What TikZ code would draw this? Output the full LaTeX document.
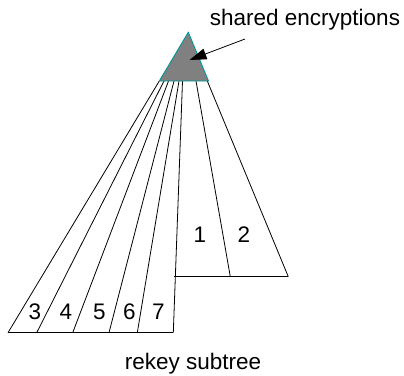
\documentclass[tikz,border=0pt]{standalone}
\usepackage{fontspec}
\setmainfont{Liberation Sans}
\usetikzlibrary{arrows.meta}
\definecolor{tealline}{RGB}{0,150,150}
\definecolor{trifill}{RGB}{128,128,128}
\tikzset{
  fan/.style={draw=black, line width=0.8pt},
  lbl/.style={font=\fontsize{22.5}{26}\selectfont, inner sep=0pt},
  ptr/.style={draw=black, line width=0.8pt, -{Triangle[length=17pt,width=11pt]}}
}
\begin{document}
\begin{tikzpicture}[x=1pt,y=-1pt]
\useasboundingbox (0,0) rectangle (404,375);
% triangle
\coordinate (apex) at (188.3,32.3);
\coordinate (bl) at (159.3,81);
\coordinate (br) at (208.5,81);
% top points on triangle base
\coordinate (t1) at (159.3,81);
\coordinate (t2) at (164,81);
\coordinate (t3) at (168.5,81);
\coordinate (t4) at (174,81);
\coordinate (t5) at (179,81);
\coordinate (t6) at (182.5,81);
\coordinate (t7) at (196,81);
\coordinate (t8) at (207.3,81);
% bottom points
\coordinate (b1) at (8,332.7);
\coordinate (b2) at (36.7,332.7);
\coordinate (b3) at (72.7,332.7);
\coordinate (b4) at (109,332.7);
\coordinate (b5) at (137.3,332.7);
\coordinate (b6) at (173.3,332.7);
\coordinate (c6) at (174.3,276.7);
\coordinate (c7) at (230.3,276.7);
\coordinate (c8) at (288.3,276.7);
% fan lines
\draw[fan] (t1) -- (b1);
\draw[fan] (t2) -- (b2);
\draw[fan] (t3) -- (b3);
\draw[fan] (t4) -- (b4);
\draw[fan] (t5) -- (b5);
\draw[fan] (t6) -- (b6);
\draw[fan] (t7) -- (c7);
\draw[fan] (t8) -- (c8);
\draw[fan] (b1) -- (b6);
\draw[fan] (c6) -- (c8);
% triangle on top
\draw[fill=trifill, draw=tealline, line width=0.9pt] (apex) -- (br) -- (bl) -- cycle;
% labels
\node[lbl] (n3) at (35,311.7) {3};
\node[lbl] (n4) at (66,311.7) {4};
\node[lbl] (n5) at (99.3,311.7) {5};
\node[lbl] (n6) at (129.3,311.7) {6};
\node[lbl] (n7) at (158.3,311.7) {7};
\node[lbl] (n1) at (200,235) {1};
\node[lbl] (n2) at (244,235) {2};
\node[lbl, anchor=base] (shared) at (305,25) {shared encryptions};
\node[lbl, anchor=base] (rekey) at (193,369) {rekey subtree};
\coordinate (tip) at (189.5,60);
\coordinate (tail) at (245,39);
\draw[ptr] (tail) -- (tip);
\end{tikzpicture}
\end{document}
